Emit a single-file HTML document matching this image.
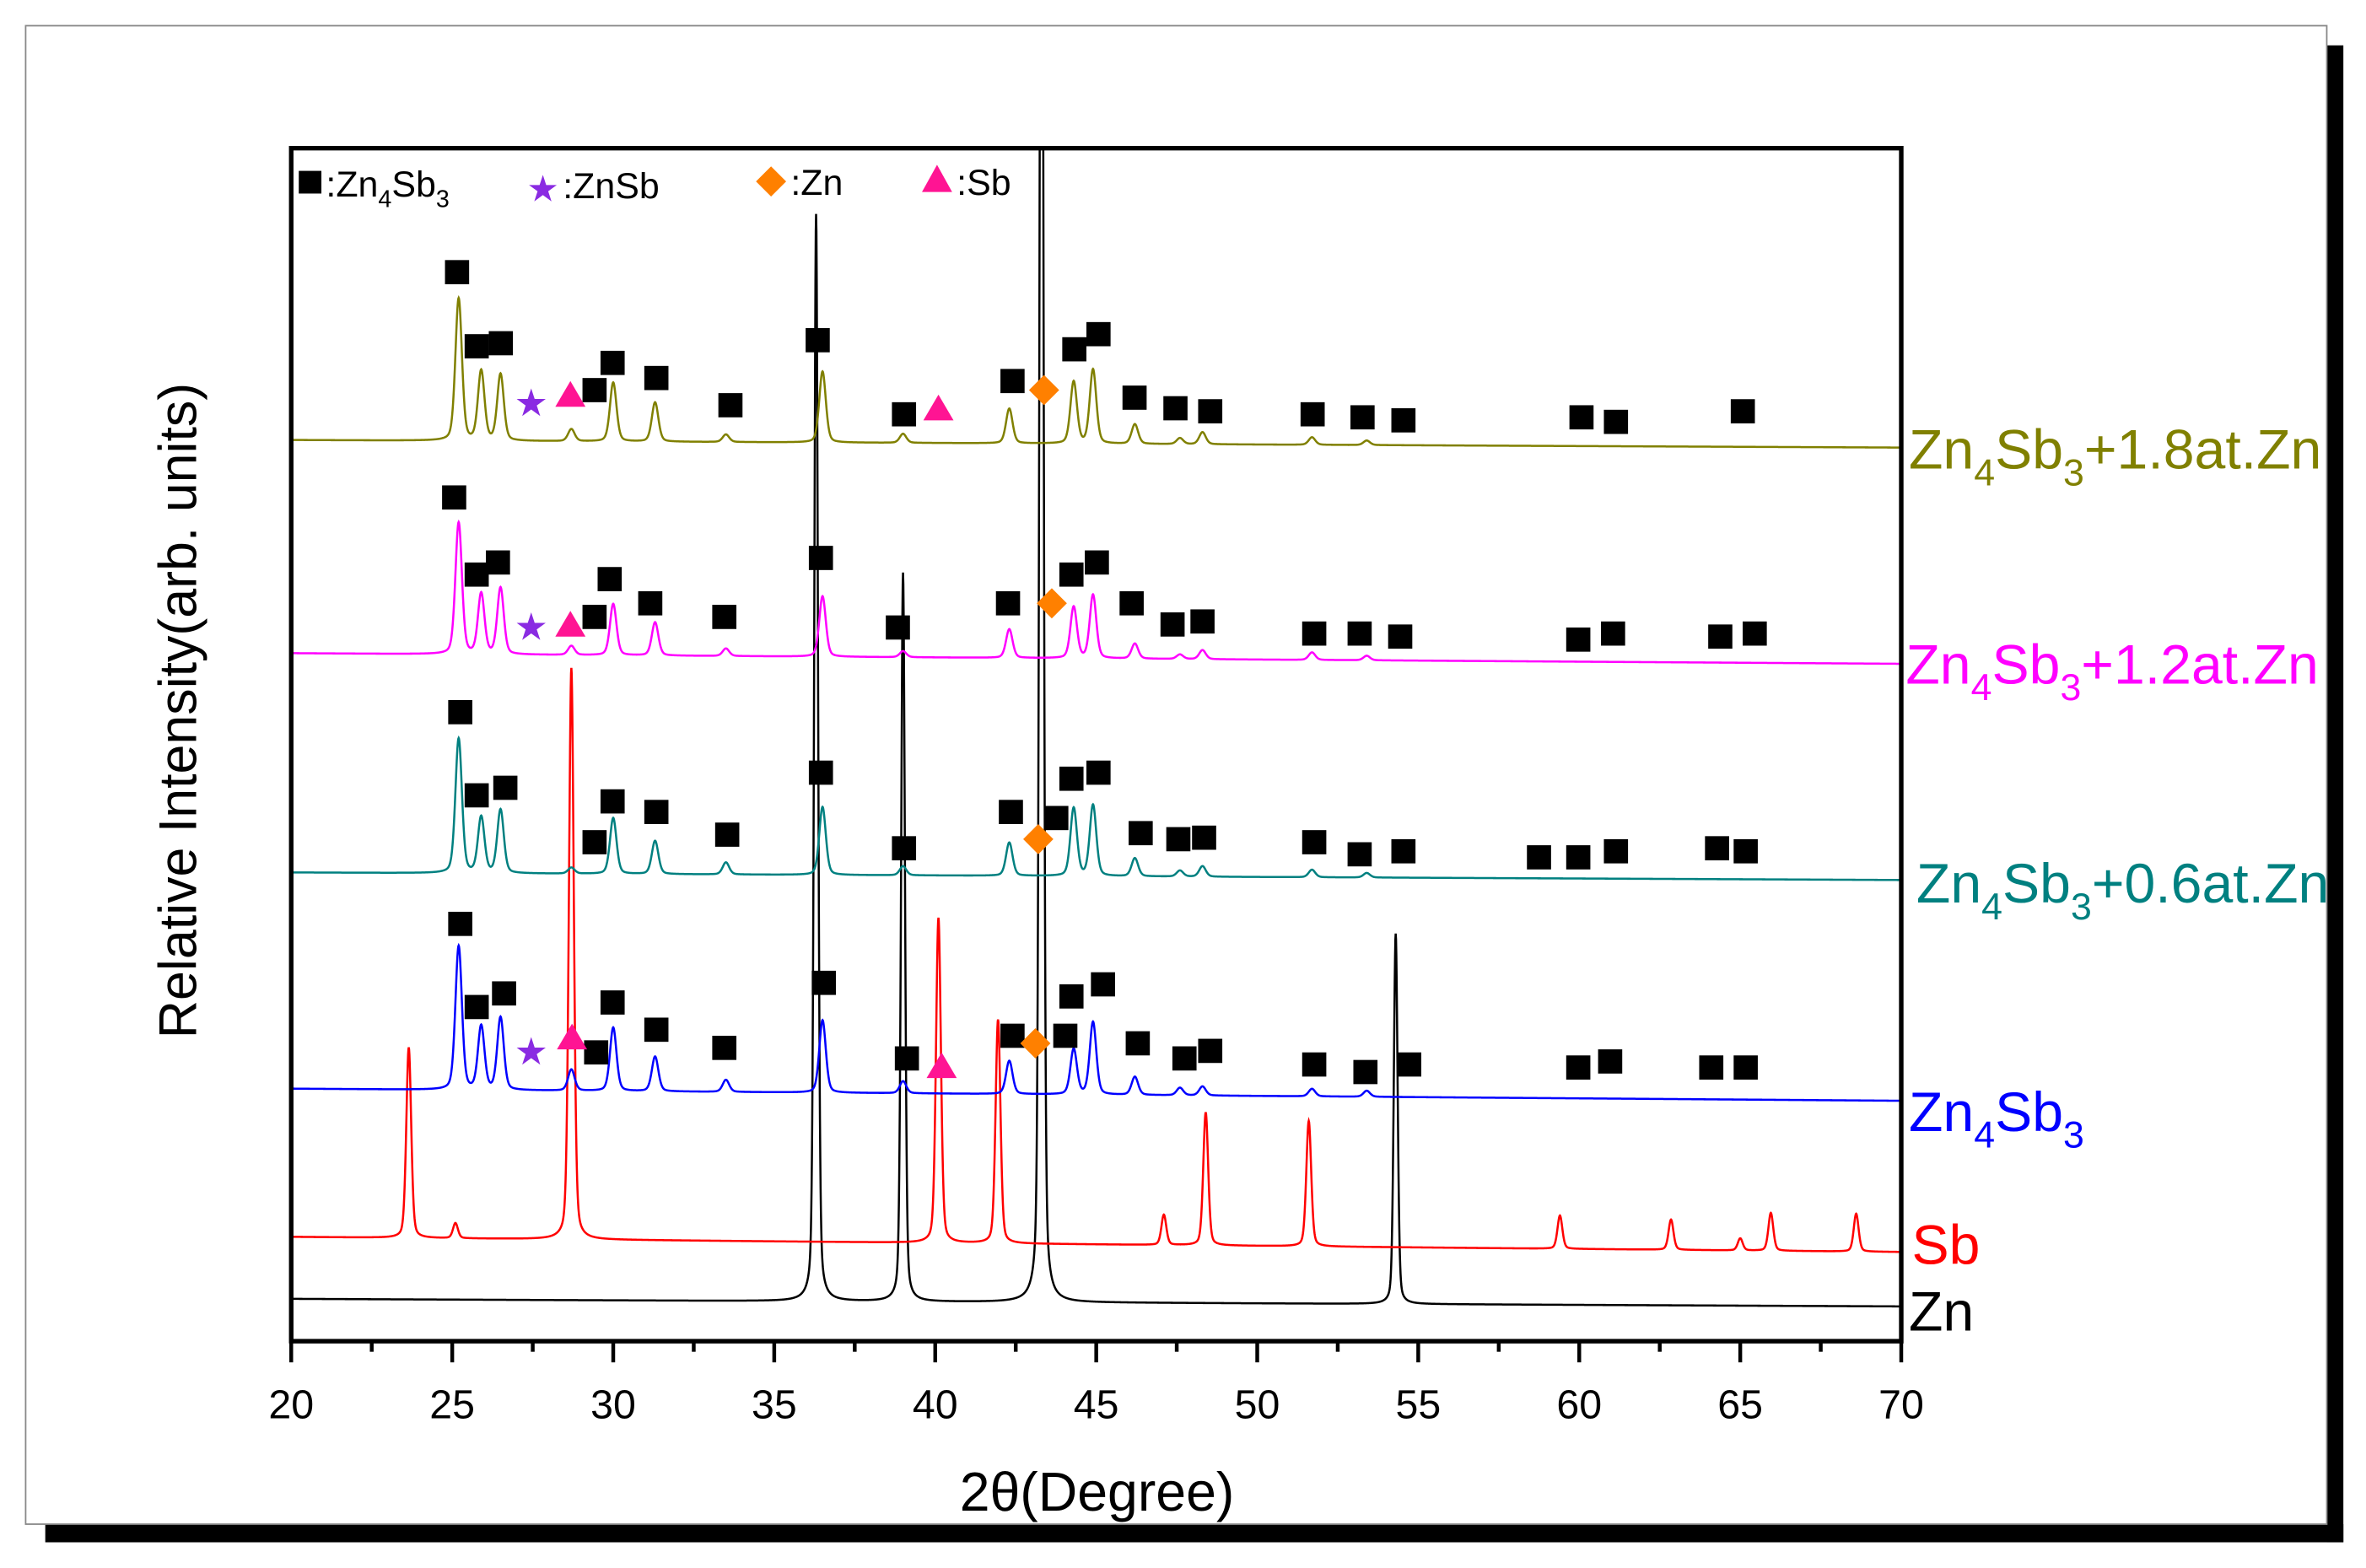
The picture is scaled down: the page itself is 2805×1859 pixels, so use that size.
<!DOCTYPE html>
<html><head><meta charset="utf-8"><style>
html,body{margin:0;padding:0;background:#fff}
svg{display:block}
text{font-family:"Liberation Sans",sans-serif}
</style></head><body>
<svg id="chart" width="2805" height="1859" viewBox="0 0 1568 1037" preserveAspectRatio="none" xmlns="http://www.w3.org/2000/svg">
<rect x="30" y="1008" width="1523" height="12" fill="#000"/>
<rect x="1542" y="30" width="11" height="990" fill="#000"/>
<rect x="17" y="17" width="1525" height="991" fill="#fff" stroke="#888" stroke-width="1"/>
<defs><clipPath id="plotclip"><rect x="193" y="98" width="1067" height="789"/></clipPath></defs>
<g id="series" clip-path="url(#plotclip)"></g>
<g id="markers"></g>
<rect x="193" y="98" width="1067" height="789" fill="none" stroke="#000" stroke-width="3"/>
<g id="xaxis"></g>
<text x="727" y="999" font-size="36" text-anchor="middle">2θ(Degree)</text>
<text transform="translate(130,470) rotate(-90)" font-size="35" text-anchor="middle">Relative Intensity(arb. units)</text>
<g font-size="24">
<rect x="198" y="113" width="15" height="15" fill="#000"/>
<text x="216" y="130">:Zn<tspan font-size="16" dy="7">4</tspan><tspan dy="-7">Sb</tspan><tspan font-size="16" dy="7">3</tspan></text>
<text x="349" y="133" font-size="24" fill="#8a2be2">★</text>
<text x="373" y="131">:ZnSb</text>
<path d="M511,110 L521,120 L511,130 L501,120Z" fill="#ff8000"/>
<text x="524" y="129">:Zn</text>
<path d="M621,109 L631,127 L611,127Z" fill="#ff1493"/>
<text x="634" y="129">:Sb</text>
</g>
<g font-size="37">
<text x="1265" y="310" fill="#808000">Zn<tspan font-size="25" dy="11">4</tspan><tspan dy="-11">Sb</tspan><tspan font-size="25" dy="11">3</tspan><tspan dy="-11">+1.8at.Zn</tspan></text>
<text x="1263" y="452" fill="#ff00ff">Zn<tspan font-size="25" dy="11">4</tspan><tspan dy="-11">Sb</tspan><tspan font-size="25" dy="11">3</tspan><tspan dy="-11">+1.2at.Zn</tspan></text>
<text x="1270" y="597" fill="#008080">Zn<tspan font-size="25" dy="11">4</tspan><tspan dy="-11">Sb</tspan><tspan font-size="25" dy="11">3</tspan><tspan dy="-11">+0.6at.Zn</tspan></text>
<text x="1265" y="748" fill="#0000ff">Zn<tspan font-size="25" dy="11">4</tspan><tspan dy="-11">Sb</tspan><tspan font-size="25" dy="11">3</tspan></text>
<text x="1267" y="836" fill="#ff0000">Sb</text>
<text x="1265" y="880" fill="#000">Zn</text>
</g>
</svg>
<script>
const xTicks = [20,25,30,35,40,45,50,55,60,65,70];
const seriesNames = ['zn','sb','zn4sb3','zn4sb3-0.6','zn4sb3-1.2','zn4sb3-1.8'];
const seriesColors = ['#000000','#ff0000','#0000ff','#008080','#ff00ff','#808000'];
const baseStart = [859,818,720,577,432,291];
const baseEnd = [864,828,728,582,439,296];
const znPos = [36.3,39.0,43.3,54.3];
const znHt = [719,482,1200,245];
const sbPos = [23.65,25.1,28.7,40.1,41.95,47.1,48.4,51.6,59.4,62.85,65.0,65.95,68.6];
const sbHt = [126,10,378,215,148,20,88,83,22,20,8,25,25];
const phasePos = [25.2,25.9,26.5,28.7,30.0,31.3,33.5,36.5,39.0,42.3,44.3,44.9,46.2,47.6,48.3,51.7,53.4];
const blueHt = [95,42,48,14,42,23,8,48,8,22,30,48,12,5,6,5,4];
const tealHt = [89,37,42,4,37,22,8,45,6,22,45,47,12,4,7,5,3];
const magHt = [87,40,44,6,34,22,5,40,4,19,34,42,10,3,6,5,3];
const oliveHt = [94,46,44,8,39,26,5,47,6,23,41,49,13,4,8,5,3];
const squares = {
 olive:[[25.15,180],[25.76,229],[26.51,227],[29.42,258],[29.98,240],[31.34,250],[33.64,268],[39.03,274],[36.35,225],[42.40,252],[44.32,231],[45.07,221],[46.19,263],[47.46,270],[48.54,272],[51.72,274],[53.27,276],[54.54,278],[60.07,276],[61.14,279],[65.08,272]],
 mag:[[25.06,329],[25.76,380],[26.42,372],[29.42,408],[29.89,383],[31.15,399],[33.45,408],[38.84,415],[36.45,369],[42.26,399],[44.23,380],[45.02,372],[46.10,399],[47.37,413],[48.30,411],[51.77,419],[53.18,419],[54.44,421],[59.97,423],[61.05,419],[64.38,421],[65.45,419]],
 teal:[[25.25,471],[25.76,526],[26.65,521],[29.42,557],[29.98,530],[31.34,537],[33.54,552],[39.03,561],[36.45,511],[42.35,537],[44.23,515],[43.76,541],[45.07,511],[46.38,551],[47.55,555],[48.35,554],[51.77,557],[53.18,565],[54.54,563],[58.75,567],[59.97,567],[61.14,563],[64.28,561],[65.17,563]],
 blue:[[25.25,611],[25.76,666],[26.61,657],[29.47,696],[29.98,663],[31.34,681],[33.45,693],[39.12,700],[36.54,650],[42.40,685],[44.23,659],[44.04,685],[45.21,651],[46.29,690],[47.74,700],[48.54,695],[51.77,704],[53.36,709],[54.72,704],[59.97,706],[60.96,702],[64.10,706],[65.17,706]]
};
const stars = [[27.45,266],[27.45,414],[27.45,695]];
const triangles = [[28.67,261],[40.10,270],[28.67,413],[28.72,686],[40.20,705]];
const diamonds = [[43.38,258],[43.62,399],[43.20,555],[43.11,690]];

const NS='http://www.w3.org/2000/svg';
const X0=193, X1=1260;
function xs(v){return X0+(v-20)*(X1-X0)/50;}
function mk(tag,attrs,parent){const e=document.createElementNS(NS,tag);for(const k in attrs)e.setAttribute(k,attrs[k]);parent.appendChild(e);return e;}

const sg=document.getElementById('series');
const peakSets=[[znPos,znHt,0.07],[sbPos,sbHt,0.09],[phasePos,blueHt,0.12],[phasePos,tealHt,0.12],[phasePos,magHt,0.12],[phasePos,oliveHt,0.12]];
seriesNames.forEach((nm,i)=>{
  const [pos,ht,w]=peakSets[i];
  let d='';
  for(let t=20;t<=70.0001;t+=0.01){
    let b=baseStart[i]+(baseEnd[i]-baseStart[i])*(t-20)/50;
    let s=0;
    for(let k=0;k<pos.length;k++){const u=(t-pos[k])/w;s+=ht[k]*(0.7*Math.exp(-0.693*u*u)+0.3/(1+u*u));}
    d+=(d?'L':'M')+xs(t).toFixed(2)+','+(b-s).toFixed(2);
  }
  const p=mk('path',{d:d,fill:'none',stroke:seriesColors[i],'stroke-width':1.4},sg);
  
  
});

const mg=document.getElementById('markers');
Object.keys(squares).forEach(key=>{
  squares[key].forEach(([t,y])=>{
    const r=mk('rect',{x:xs(t)-8,y:y-8,width:16,height:16,fill:'#000'},mg);
    
    
  });
});
stars.forEach(([t,y])=>{
  const s=mk('text',{x:xs(t),y:y+9,'font-size':25,fill:'#8a2be2','text-anchor':'middle'},mg);
  s.textContent='★';
  
  
});
triangles.forEach(([t,y])=>{
  const x=xs(t);
  const p=mk('path',{d:`M${x},${y-9} L${x+10},${y+8} L${x-10},${y+8}Z`,fill:'#ff1493'},mg);
  
  
});
diamonds.forEach(([t,y])=>{
  const x=xs(t);
  const p=mk('path',{d:`M${x},${y-10} L${x+10},${y} L${x},${y+10} L${x-10},${y}Z`,fill:'#ff8000'},mg);
  
  
});

const xg=document.getElementById('xaxis');
for(let t=20;t<=70;t+=2.5){
  const major=Math.abs(t%5)<1e-6;
  const l=mk('line',{x1:xs(t),x2:xs(t),y1:887,y2:major?901:894,stroke:'#000','stroke-width':2.5},xg);
  
  
}
xTicks.forEach(v=>{
  const tx=mk('text',{x:xs(v),y:938,'font-size':27,'text-anchor':'middle'},xg);
  tx.textContent=v;
  
  
});
</script>
</body></html>
